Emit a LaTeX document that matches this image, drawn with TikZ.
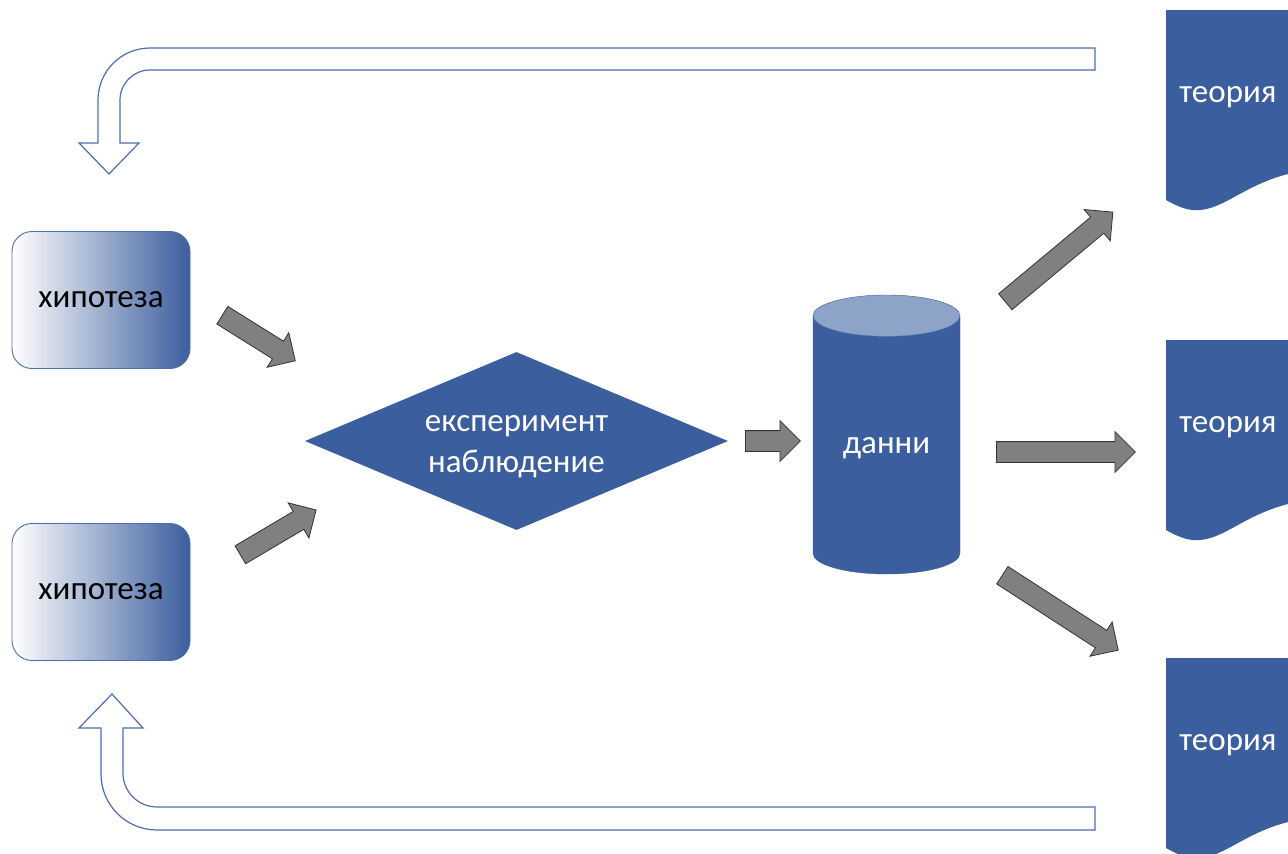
\documentclass[tikz,border=0pt]{standalone}
\usepackage{fontspec}
\setmainfont{Carlito}
\usetikzlibrary{shapes.geometric,shapes.arrows,positioning}

\definecolor{sciblue}{RGB}{59,94,158}
\definecolor{scilight}{RGB}{142,163,200}
\definecolor{sciedge}{RGB}{78,110,172}
\definecolor{pushgray}{RGB}{128,128,128}

\begin{document}
\begin{tikzpicture}[x=1pt,y=-1pt]
\tikzstyle{big}=[font=\fontsize{33}{41}\selectfont]
\tikzstyle{hyp}=[big,draw=sciedge,line width=0.9pt,rounded corners=20pt,left color=white,right color=sciblue,minimum width=178pt,minimum height=137pt]
\tikzstyle{push}=[single arrow,anchor=tail,draw=black!80,fill=pushgray,line width=0.8pt,minimum width=40pt,single arrow head extend=10pt,inner xsep=0pt,inner ysep=10pt]
\tikzstyle{hollow}=[draw=sciedge,line width=1.2pt,fill=white]

\useasboundingbox (0,0) rectangle (1288,854);
\clip (0,0) rectangle (1288,854);

% hypotheses
\node [hyp] (hyp1) at (101,300) {хипотеза};
\node [hyp] (hyp2) at (101,592) {хипотеза};

% experiment and data
\node [diamond,fill=sciblue,inner sep=0pt,aspect=2.4,minimum width=423pt,minimum height=178pt] (exp) at (516.5,441) {};
\node [big,text=white,align=center] (exptext) at (516.5,447) {експеримент\\наблюдение};
\node [cylinder,big,anchor=shape center,shape border rotate=90,aspect=0.44,draw=sciblue,cylinder uses custom fill,cylinder body fill=sciblue,cylinder end fill=scilight,text=white,minimum width=147pt,minimum height=279pt] (data) at (886.5,434.5) {данни};

% theories
\foreach \t/\nm in {10/th1,340/th2,658/th3}
{
	\fill [sciblue] (1166,\t) -- (1300,\t) -- (1300,\t+163) -- (1288,\t+164)
		.. controls (1245,\t+175) and (1225,\t+198) .. (1200,\t+200)
		.. controls (1190,\t+201) and (1180,\t+198) .. (1166,\t+190) -- cycle;
	\node [big,text=white] (\nm) at (1228,\t+87) {теория};
}

% gray arrows, placed by their tails
\node [push,minimum height=86pt,rotate=-32] (arr1) at (222,315) {};
\node [push,minimum height=88pt,rotate=30.6] (arr2) at (240,555) {};
\node [push,minimum height=55pt] (arr3) at (745,441) {};
\node [push,minimum height=140pt,rotate=39.8] (arr4) at (1005,302) {};
\node [push,minimum height=139pt] (arr5) at (996,452) {};
\node [push,minimum height=138pt,rotate=-32.9] (arr6) at (1002,575) {};

% feedback arrows
\draw [hollow] (1095,48) -- (150,48) arc [start angle=90,end angle=180,radius=52pt] -- (98,143) -- (79,143) -- (109,174) -- (139,143) -- (120,143) -- (120,100) arc [start angle=180,end angle=90,radius=30pt] -- (1095,70) -- cycle;
\draw [hollow] (1095,830) -- (157,830) arc [start angle=270,end angle=180,radius=56pt] -- (101,728) -- (79,728) -- (112,694) -- (143,728) -- (123,728) -- (123,773) arc [start angle=180,end angle=270,radius=34pt] -- (1095,807) -- cycle;
\end{tikzpicture}
\end{document}
